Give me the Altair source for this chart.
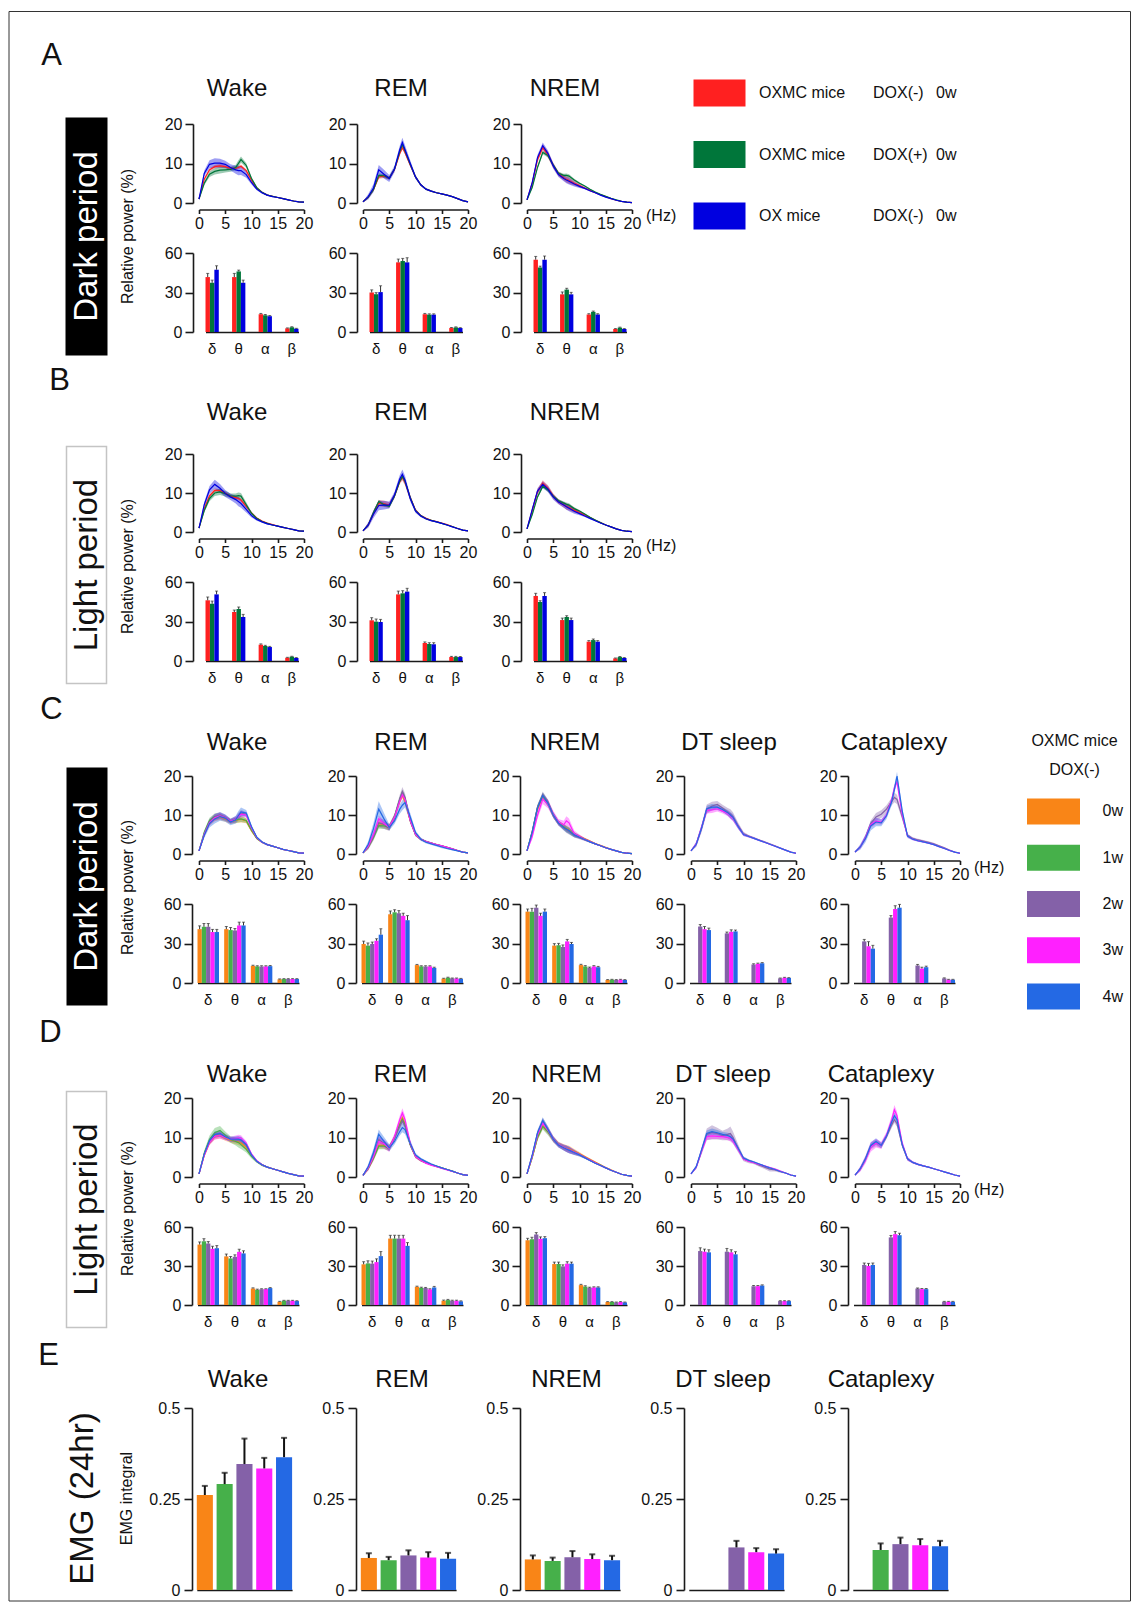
import altair as alt
import pandas as pd

FONT = "Liberation Sans"
INK = "#1a1a1a"
TEXT = "#111111"
ERR = "#333333"

# ---------------- categories / series ----------------
FREQ = [0, 1, 2, 3, 4, 5, 6, 7, 7.5, 8, 9, 10, 11, 12, 13, 14, 15, 16, 17, 18, 19, 20]
BANDS = ["δ", "θ", "α", "β"]
STATES = ["Wake", "REM", "NREM", "DT sleep", "Cataplexy"]

AB_SERIES = ["OXMC DOX(-) 0w", "OXMC DOX(+) 0w", "OX DOX(-) 0w"]
AB_COLORS = ["#FF2020", "#00763A", "#0000E0"]
AB_LEG_NAME = ["OXMC mice", "OXMC mice", "OX mice"]
AB_LEG_DOX = ["DOX(-)", "DOX(+)", "DOX(-)"]
AB_LEG_WEEK = ["0w", "0w", "0w"]

W_SERIES = ["0w", "1w", "2w", "3w", "4w"]
W_COLORS = ["#F98517", "#46B04A", "#8461A8", "#FF20FF", "#2469E4"]
W_SUB = ["2w", "3w", "4w"]

# ---------------- SEM profiles ----------------
SEM_S = [0.05, 0.3, 0.4, 0.45, 0.45, 0.4, 0.4, 0.4, 0.45, 0.45, 0.35, 0.25, 0.15, 0.1, 0.1, 0.08, 0.08, 0.06, 0.05, 0.05, 0.04, 0.03]
SEM_M = [0.1, 0.5, 0.7, 0.8, 0.8, 0.7, 0.6, 0.7, 0.8, 0.8, 0.6, 0.4, 0.25, 0.2, 0.15, 0.12, 0.1, 0.1, 0.08, 0.06, 0.05, 0.04]
SEM_L = [0.1, 0.7, 1.0, 1.2, 1.1, 0.9, 0.8, 1.0, 1.2, 1.1, 0.8, 0.5, 0.3, 0.25, 0.2, 0.15, 0.12, 0.1, 0.08, 0.06, 0.05, 0.04]
SEM_C_REM_BLUE = [0.1, 0.8, 1.5, 2.0, 1.5, 0.8, 0.8, 1.2, 1.3, 1.3, 1.0, 0.5, 0.4, 0.3, 0.3, 0.3, 0.3, 0.2, 0.2, 0.1, 0.1, 0.05]
SEM_C_CAT_PURPLE = [0.1, 0.3, 0.5, 0.8, 1.0, 1.0, 1.0, 1.0, 1.2, 1.2, 0.8, 0.4, 0.3, 0.3, 0.3, 0.3, 0.3, 0.2, 0.2, 0.1, 0.1, 0.05]
SEM_D_DT_PURPLE = [0.1, 0.3, 0.8, 1.5, 1.8, 1.5, 1.2, 1.5, 1.8, 1.5, 1.0, 0.6, 0.5, 0.4, 0.4, 0.5, 0.6, 0.4, 0.3, 0.2, 0.1, 0.05]

# ---------------- spectra: A (dark, OX/OXMC) ----------------
A_WAKE = [
    [1.0, 6.0, 8.4, 9.2, 9.4, 9.2, 8.8, 8.8, 9.0, 9.3, 8.2, 5.8, 3.8, 2.7, 2.0, 1.7, 1.4, 1.1, 0.8, 0.5, 0.3, 0.2],
    [1.0, 5.0, 7.3, 8.0, 8.3, 8.4, 8.5, 9.0, 10.0, 11.0, 9.5, 6.2, 3.9, 2.7, 2.0, 1.7, 1.4, 1.1, 0.8, 0.5, 0.3, 0.2],
    [1.0, 7.5, 9.8, 10.1, 10.1, 9.8, 9.0, 8.4, 8.2, 8.2, 7.2, 5.2, 3.5, 2.6, 2.0, 1.6, 1.4, 1.1, 0.8, 0.5, 0.3, 0.2]]
A_REM = [
    [0.3, 1.5, 3.4, 6.6, 6.8, 6.3, 8.5, 12.5, 14.0, 12.8, 9.6, 6.6, 4.6, 3.5, 3.0, 2.6, 2.3, 2.0, 1.6, 1.1, 0.6, 0.3],
    [0.3, 1.5, 3.4, 7.0, 6.9, 6.3, 8.6, 13.0, 14.8, 13.2, 9.8, 6.6, 4.6, 3.5, 3.0, 2.6, 2.3, 2.0, 1.6, 1.1, 0.6, 0.3],
    [0.3, 1.6, 3.8, 8.4, 7.3, 6.2, 8.6, 13.5, 15.3, 13.5, 10.0, 6.6, 4.6, 3.5, 3.0, 2.6, 2.3, 2.0, 1.6, 1.1, 0.6, 0.3]]
A_NREM = [
    [0.8, 5.0, 11.0, 14.0, 12.2, 9.5, 7.4, 6.4, 6.0, 5.7, 5.0, 4.4, 3.8, 3.2, 2.6, 2.1, 1.6, 1.1, 0.7, 0.4, 0.2, 0.1],
    [0.8, 4.0, 9.0, 12.8, 12.0, 9.6, 7.5, 7.0, 7.0, 6.8, 5.8, 5.0, 4.3, 3.5, 2.8, 2.2, 1.7, 1.2, 0.8, 0.4, 0.2, 0.1],
    [0.8, 5.2, 11.5, 14.5, 12.5, 9.4, 7.2, 6.2, 5.8, 5.5, 4.8, 4.2, 3.7, 3.1, 2.6, 2.0, 1.5, 1.1, 0.7, 0.4, 0.2, 0.1]]
A_SEMS = [[SEM_S, SEM_M, SEM_L], [SEM_S, SEM_S, SEM_L], [SEM_M, SEM_S, SEM_M]]

# ---------------- spectra: B (light, OX/OXMC) ----------------
B_WAKE = [
    [1.0, 6.0, 9.3, 10.7, 10.6, 9.9, 9.2, 8.8, 8.6, 8.2, 6.6, 4.9, 3.6, 2.8, 2.3, 1.9, 1.5, 1.2, 0.9, 0.6, 0.3, 0.2],
    [1.0, 5.5, 8.6, 10.0, 10.3, 9.8, 9.3, 9.2, 9.3, 9.2, 7.0, 4.8, 3.5, 2.7, 2.2, 1.8, 1.5, 1.2, 0.9, 0.6, 0.3, 0.2],
    [1.0, 7.0, 10.8, 12.2, 11.2, 9.9, 9.0, 8.3, 7.8, 7.3, 5.8, 4.2, 3.2, 2.6, 2.1, 1.8, 1.5, 1.2, 0.9, 0.6, 0.3, 0.2]]
B_REM = [
    [0.3, 1.8, 4.8, 7.4, 7.2, 6.9, 9.3, 13.0, 14.0, 12.8, 8.8, 5.6, 4.2, 3.5, 3.0, 2.7, 2.3, 1.9, 1.4, 0.9, 0.5, 0.3],
    [0.3, 1.8, 5.0, 7.8, 7.0, 6.6, 9.2, 13.0, 14.2, 13.0, 8.8, 5.5, 4.2, 3.4, 3.0, 2.6, 2.2, 1.8, 1.4, 0.9, 0.5, 0.3],
    [0.3, 1.8, 4.6, 6.8, 6.9, 6.9, 9.5, 13.6, 14.8, 13.3, 8.6, 5.4, 4.1, 3.4, 2.9, 2.6, 2.2, 1.8, 1.3, 0.9, 0.5, 0.3]]
B_NREM = [
    [0.8, 5.5, 10.3, 12.5, 11.2, 9.2, 7.8, 7.0, 6.6, 6.3, 5.6, 5.0, 4.4, 3.7, 3.0, 2.4, 1.8, 1.3, 0.8, 0.4, 0.2, 0.1],
    [0.8, 4.5, 9.0, 11.7, 10.8, 9.2, 8.0, 7.4, 7.1, 6.9, 6.0, 5.4, 4.6, 3.8, 3.1, 2.4, 1.8, 1.3, 0.8, 0.4, 0.2, 0.1],
    [0.8, 5.8, 10.5, 12.2, 11.0, 9.0, 7.7, 6.9, 6.5, 6.1, 5.3, 4.7, 4.1, 3.5, 2.9, 2.3, 1.8, 1.3, 0.8, 0.4, 0.2, 0.1]]
B_SEMS = [[SEM_S, SEM_M, SEM_L], [SEM_M, SEM_S, SEM_L], [SEM_M, SEM_S, SEM_M]]

# ---------------- spectra: C (dark, OXMC DOX(-) weeks) ----------------
C_WAKE = [
    [0.8, 5.0, 8.0, 9.2, 9.5, 9.0, 8.3, 8.6, 8.8, 8.9, 8.5, 6.0, 4.0, 3.0, 2.4, 2.0, 1.6, 1.2, 0.9, 0.6, 0.3, 0.2],
    [0.8, 5.6, 8.6, 9.6, 9.8, 9.2, 8.4, 8.7, 8.9, 9.0, 8.6, 6.1, 4.0, 3.0, 2.4, 2.0, 1.6, 1.2, 0.9, 0.6, 0.3, 0.2],
    [0.8, 5.2, 8.3, 9.5, 10.0, 9.4, 8.5, 9.0, 9.8, 10.5, 10.2, 6.8, 4.2, 3.1, 2.4, 2.0, 1.6, 1.2, 0.9, 0.6, 0.3, 0.2],
    [0.8, 5.0, 8.0, 9.3, 9.8, 9.3, 8.4, 8.9, 9.6, 10.2, 10.0, 6.7, 4.2, 3.0, 2.4, 2.0, 1.6, 1.2, 0.9, 0.6, 0.3, 0.2],
    [0.8, 4.8, 7.8, 9.0, 9.6, 9.2, 8.2, 8.8, 9.8, 10.8, 10.5, 7.0, 4.3, 3.1, 2.4, 2.0, 1.6, 1.2, 0.9, 0.6, 0.3, 0.2]]
C_REM = [
    [0.3, 1.8, 4.5, 7.8, 7.5, 6.8, 9.5, 13.5, 15.0, 13.5, 8.5, 5.0, 3.8, 3.2, 2.8, 2.4, 2.1, 1.7, 1.3, 0.9, 0.5, 0.3],
    [0.3, 1.8, 4.3, 7.3, 7.2, 6.8, 9.6, 14.0, 15.8, 14.3, 8.6, 5.0, 3.8, 3.2, 2.8, 2.4, 2.1, 1.7, 1.3, 0.9, 0.5, 0.3],
    [0.3, 1.8, 4.5, 8.0, 7.6, 6.8, 9.6, 14.2, 16.0, 14.5, 8.6, 5.0, 3.8, 3.2, 2.8, 2.4, 2.1, 1.7, 1.3, 0.9, 0.5, 0.3],
    [0.3, 2.0, 5.0, 9.0, 7.8, 6.9, 9.4, 13.5, 15.2, 14.0, 8.6, 5.0, 3.8, 3.2, 2.8, 2.4, 2.1, 1.7, 1.3, 0.9, 0.5, 0.3],
    [0.3, 2.5, 6.5, 11.5, 9.0, 6.8, 8.5, 11.5, 12.5, 13.2, 9.5, 5.5, 3.8, 3.0, 2.6, 2.2, 1.8, 1.4, 1.1, 0.8, 0.5, 0.3]]
C_NREM = [
    [0.8, 5.5, 11.5, 14.8, 13.0, 10.0, 8.0, 7.0, 6.6, 6.2, 5.0, 4.5, 3.9, 3.3, 2.7, 2.2, 1.7, 1.2, 0.8, 0.4, 0.2, 0.1],
    [0.8, 5.8, 12.0, 15.0, 13.0, 10.0, 8.0, 6.9, 6.4, 6.0, 4.9, 4.4, 3.8, 3.2, 2.6, 2.1, 1.6, 1.2, 0.8, 0.4, 0.2, 0.1],
    [0.8, 5.8, 12.0, 15.2, 13.2, 10.0, 7.9, 6.7, 6.2, 5.8, 4.8, 4.2, 3.6, 3.1, 2.6, 2.1, 1.6, 1.2, 0.8, 0.4, 0.2, 0.1],
    [0.8, 4.5, 10.0, 14.0, 12.8, 10.2, 8.2, 7.5, 8.5, 8.0, 5.2, 4.5, 3.8, 3.2, 2.6, 2.1, 1.6, 1.2, 0.8, 0.4, 0.2, 0.1],
    [0.8, 5.6, 11.8, 15.0, 13.0, 10.0, 7.9, 6.8, 6.4, 6.0, 4.9, 4.3, 3.7, 3.1, 2.6, 2.1, 1.6, 1.2, 0.8, 0.4, 0.2, 0.1]]
C_DT = [
    [0.8, 2.5, 6.5, 11.5, 12.3, 12.7, 11.8, 10.8, 10.3, 9.6, 7.2, 5.2, 4.6, 4.1, 3.6, 3.1, 2.6, 2.1, 1.5, 1.0, 0.5, 0.2],
    [0.8, 2.6, 6.8, 11.2, 11.3, 11.6, 11.0, 10.4, 9.8, 9.2, 7.0, 5.0, 4.5, 4.0, 3.5, 3.0, 2.5, 2.0, 1.5, 1.0, 0.5, 0.2],
    [0.8, 2.5, 6.6, 11.6, 12.0, 12.0, 11.4, 10.6, 10.0, 9.4, 7.0, 5.0, 4.5, 4.0, 3.5, 3.0, 2.5, 2.0, 1.5, 1.0, 0.5, 0.2]]
C_CAT = [
    [0.5, 1.8, 4.3, 7.8, 9.5, 10.2, 11.5, 13.5, 14.5, 14.0, 9.5, 4.8, 4.0, 3.6, 3.3, 3.0, 2.6, 2.1, 1.6, 1.0, 0.5, 0.2],
    [0.5, 1.8, 4.2, 7.5, 8.4, 8.2, 10.0, 14.0, 17.0, 18.5, 10.0, 4.6, 3.8, 3.4, 3.1, 2.8, 2.4, 1.9, 1.4, 0.9, 0.5, 0.2],
    [0.5, 1.8, 4.0, 7.2, 8.2, 8.0, 9.8, 13.5, 16.5, 20.0, 11.0, 4.6, 3.8, 3.4, 3.1, 2.8, 2.4, 1.9, 1.4, 0.9, 0.5, 0.2]]
C_SEMS = [[SEM_M, SEM_M, SEM_M, SEM_M, SEM_L],
          [SEM_M, SEM_M, SEM_L, SEM_M, SEM_C_REM_BLUE],
          [SEM_M, SEM_M, SEM_M, SEM_L, SEM_M],
          [SEM_L, SEM_M, SEM_M],
          [SEM_C_CAT_PURPLE, SEM_M, SEM_L]]

# ---------------- spectra: D (light, OXMC DOX(-) weeks) ----------------
D_WAKE = [
    [0.8, 5.5, 8.8, 10.3, 10.6, 9.9, 9.3, 9.0, 8.9, 8.6, 7.5, 5.5, 4.0, 3.1, 2.5, 2.1, 1.7, 1.3, 0.9, 0.6, 0.3, 0.2],
    [0.8, 6.0, 9.5, 11.2, 11.8, 10.6, 9.5, 9.0, 8.7, 8.2, 7.0, 5.2, 3.9, 3.0, 2.5, 2.1, 1.7, 1.3, 0.9, 0.6, 0.3, 0.2],
    [0.8, 5.8, 9.0, 10.6, 11.0, 10.2, 9.5, 9.4, 9.4, 9.3, 8.0, 5.6, 4.0, 3.1, 2.5, 2.1, 1.7, 1.3, 0.9, 0.6, 0.3, 0.2],
    [0.8, 5.5, 8.8, 10.3, 10.5, 10.0, 9.6, 9.8, 9.9, 9.8, 8.5, 5.8, 4.1, 3.1, 2.5, 2.1, 1.7, 1.3, 0.9, 0.6, 0.3, 0.2],
    [0.8, 5.8, 9.2, 10.8, 11.0, 10.2, 9.6, 9.6, 9.6, 9.4, 8.2, 5.6, 4.0, 3.1, 2.5, 2.1, 1.7, 1.3, 0.9, 0.6, 0.3, 0.2]]
D_REM = [
    [0.4, 2.2, 4.8, 8.0, 8.0, 7.3, 10.0, 13.5, 15.0, 13.5, 8.2, 5.2, 4.2, 3.6, 3.1, 2.7, 2.3, 1.9, 1.5, 1.0, 0.6, 0.4],
    [0.4, 2.2, 4.8, 7.8, 7.8, 7.3, 10.0, 13.2, 14.6, 13.2, 8.2, 5.2, 4.2, 3.6, 3.1, 2.7, 2.3, 1.9, 1.5, 1.0, 0.6, 0.4],
    [0.4, 2.4, 5.5, 9.5, 8.5, 7.4, 9.8, 12.8, 14.2, 13.0, 8.3, 5.3, 4.3, 3.6, 3.1, 2.7, 2.3, 1.9, 1.5, 1.0, 0.6, 0.4],
    [0.4, 2.3, 5.2, 9.0, 8.4, 7.2, 10.2, 14.5, 16.2, 14.5, 8.5, 5.2, 4.2, 3.5, 3.0, 2.6, 2.2, 1.8, 1.4, 1.0, 0.6, 0.4],
    [0.4, 2.6, 6.2, 10.8, 9.0, 7.4, 9.0, 11.5, 12.5, 12.0, 8.5, 5.6, 4.6, 3.9, 3.3, 2.8, 2.3, 1.9, 1.5, 1.0, 0.6, 0.4]]
D_NREM = [
    [0.8, 5.0, 10.0, 13.0, 11.6, 9.6, 8.3, 7.6, 7.3, 7.1, 6.5, 5.9, 5.2, 4.5, 3.8, 3.1, 2.4, 1.8, 1.2, 0.7, 0.4, 0.2],
    [0.8, 5.0, 10.0, 12.8, 11.4, 9.5, 8.2, 7.5, 7.2, 6.9, 6.3, 5.7, 5.0, 4.3, 3.6, 3.0, 2.3, 1.7, 1.2, 0.7, 0.4, 0.2],
    [0.8, 5.5, 11.0, 14.2, 12.0, 9.6, 8.1, 7.4, 7.1, 6.8, 6.2, 5.6, 4.9, 4.2, 3.5, 2.9, 2.3, 1.7, 1.2, 0.7, 0.4, 0.2],
    [0.8, 5.3, 10.6, 13.6, 11.8, 9.6, 8.2, 7.5, 7.2, 6.9, 6.3, 5.7, 5.0, 4.3, 3.6, 2.9, 2.3, 1.7, 1.2, 0.7, 0.4, 0.2],
    [0.8, 5.6, 11.2, 14.3, 12.0, 9.6, 8.1, 7.4, 7.1, 6.8, 6.2, 5.6, 4.9, 4.2, 3.5, 2.9, 2.3, 1.7, 1.2, 0.7, 0.4, 0.2]]
D_DT = [
    [0.8, 2.5, 6.5, 10.8, 11.3, 11.0, 10.5, 10.8, 11.0, 10.0, 7.2, 4.6, 4.0, 3.6, 3.0, 2.5, 2.0, 1.8, 1.4, 1.0, 0.5, 0.2],
    [0.8, 2.5, 6.5, 10.2, 10.4, 10.3, 10.2, 10.0, 9.8, 9.2, 7.0, 4.6, 4.0, 3.6, 3.2, 2.8, 2.4, 2.0, 1.5, 1.0, 0.5, 0.2],
    [0.8, 2.6, 6.8, 11.0, 11.5, 11.2, 10.8, 10.5, 10.2, 9.6, 7.2, 4.8, 4.2, 3.8, 3.3, 2.8, 2.3, 1.9, 1.4, 1.0, 0.5, 0.2]]
D_CAT = [
    [0.5, 2.0, 4.5, 7.8, 8.6, 8.0, 10.2, 13.2, 14.5, 13.5, 8.0, 4.6, 3.7, 3.2, 2.8, 2.5, 2.1, 1.7, 1.3, 0.9, 0.5, 0.2],
    [0.5, 2.0, 4.4, 7.6, 8.6, 8.0, 10.6, 14.5, 17.0, 15.5, 8.5, 4.6, 3.7, 3.2, 2.8, 2.5, 2.1, 1.7, 1.3, 0.9, 0.5, 0.2],
    [0.5, 2.1, 4.6, 8.0, 9.0, 8.0, 10.4, 14.0, 15.5, 14.5, 8.2, 4.6, 3.7, 3.2, 2.8, 2.5, 2.1, 1.7, 1.3, 0.9, 0.5, 0.2]]
D_SEMS = [[SEM_M, SEM_L, SEM_M, SEM_M, SEM_M],
          [SEM_M, SEM_M, SEM_M, SEM_L, SEM_L],
          [SEM_M, SEM_M, SEM_M, SEM_M, SEM_M],
          [SEM_D_DT_PURPLE, SEM_M, SEM_M],
          [SEM_M, SEM_L, SEM_M]]

# ---------------- band power bars (series x [δ, θ, α, β]) ----------------
A_WAKE_BAR = [[41.7, 41.7, 13.5, 2.8], [37.4, 46.0, 12.7, 3.6], [47.3, 37.4, 12.0, 2.5]]
A_WAKE_BAR_SEM = [[2.8, 2.8, 0.6, 0.3], [2.0, 1.0, 0.6, 0.4], [3.0, 2.0, 0.5, 0.3]]
A_REM_BAR = [[30.0, 52.9, 13.5, 3.0], [28.7, 53.9, 13.2, 3.5], [30.3, 52.9, 13.2, 3.0]]
A_REM_BAR_SEM = [[2.0, 2.5, 0.6, 0.4], [1.2, 2.0, 0.6, 0.4], [4.8, 3.5, 0.6, 0.3]]
A_NREM_BAR = [[54.9, 28.6, 13.3, 2.3], [49.0, 32.2, 15.3, 3.3], [54.9, 28.6, 13.3, 2.3]]
A_NREM_BAR_SEM = [[2.5, 1.8, 0.6, 0.3], [1.0, 1.0, 0.6, 0.4], [2.8, 1.5, 0.6, 0.3]]

B_WAKE_BAR = [[46.1, 37.2, 12.4, 2.5], [43.5, 39.5, 11.4, 3.3], [50.6, 33.4, 10.6, 2.3]]
B_WAKE_BAR_SEM = [[2.5, 1.5, 0.6, 0.3], [2.0, 1.5, 0.5, 0.3], [2.5, 2.0, 0.5, 0.3]]
B_REM_BAR = [[30.9, 50.6, 13.7, 3.0], [29.9, 51.4, 12.9, 3.0], [29.6, 52.7, 12.7, 3.0]]
B_REM_BAR_SEM = [[2.0, 2.5, 0.8, 0.5], [2.0, 2.0, 1.0, 0.5], [2.0, 2.5, 1.2, 0.4]]
B_NREM_BAR = [[49.4, 31.1, 14.7, 2.0], [44.8, 33.4, 15.9, 3.0], [49.4, 31.1, 14.7, 2.3]]
B_NREM_BAR_SEM = [[2.0, 1.5, 0.8, 0.3], [1.0, 1.0, 0.8, 0.4], [2.5, 1.5, 0.8, 0.3]]

C_WAKE_BAR = [[40.9, 40.9, 13.0, 2.8], [42.7, 40.2, 12.6, 3.0], [42.7, 39.9, 12.6, 3.0], [38.7, 43.7, 12.6, 3.0], [38.7, 43.7, 12.8, 3.0]]
C_WAKE_BAR_SEM = [[2.5, 2.0, 0.5, 0.3], [2.5, 2.0, 0.5, 0.3], [2.5, 1.5, 0.5, 0.3], [2.0, 2.5, 0.5, 0.3], [2.0, 2.5, 0.5, 0.3]]
C_REM_BAR = [[29.6, 52.2, 13.6, 3.3], [28.4, 53.7, 12.6, 4.0], [29.6, 53.0, 12.6, 3.5], [32.1, 51.0, 12.6, 3.5], [36.7, 47.7, 11.5, 3.2]]
C_REM_BAR_SEM = [[2.2, 2.5, 0.5, 0.3], [2.0, 2.0, 0.5, 0.4], [1.5, 2.0, 0.5, 0.3], [1.5, 2.0, 0.5, 0.3], [4.5, 3.5, 0.5, 0.3]]
C_NREM_BAR = [[54.2, 28.4, 13.6, 2.3], [54.2, 28.6, 12.6, 2.5], [57.2, 27.4, 11.5, 2.3], [51.0, 31.6, 12.6, 2.5], [54.2, 29.6, 12.0, 2.3]]
C_NREM_BAR_SEM = [[2.0, 1.5, 0.6, 0.3], [2.5, 1.5, 0.6, 0.3], [2.0, 1.5, 0.6, 0.3], [2.0, 1.5, 0.6, 0.3], [2.0, 1.2, 0.6, 0.3]]
C_DT_BAR = [[42.9, 37.7, 14.1, 3.5], [40.9, 38.9, 14.6, 4.0], [40.2, 39.2, 15.0, 3.8]]
C_DT_BAR_SEM = [[1.5, 1.0, 0.5, 0.3], [2.0, 1.5, 0.5, 0.3], [1.5, 1.0, 0.5, 0.3]]
C_CAT_BAR = [[31.6, 49.7, 13.3, 3.5], [27.9, 56.2, 11.0, 2.5], [26.1, 57.2, 12.0, 2.5]]
C_CAT_BAR_SEM = [[1.5, 1.5, 0.8, 0.4], [3.5, 2.5, 1.0, 0.3], [2.5, 2.5, 0.8, 0.3]]

D_WAKE_BAR = [[46.5, 37.4, 12.7, 2.5], [49.0, 35.8, 11.7, 3.3], [47.3, 37.1, 12.2, 3.3], [43.2, 40.9, 12.2, 3.3], [43.7, 39.7, 13.0, 3.0]]
D_WAKE_BAR_SEM = [[2.0, 1.8, 0.5, 0.3], [2.0, 1.5, 0.5, 0.3], [1.5, 1.5, 0.3, 0.3], [2.0, 2.0, 0.3, 0.3], [2.0, 2.0, 0.4, 0.3]]
D_REM_BAR = [[31.3, 51.1, 14.0, 3.3], [32.0, 51.1, 13.2, 3.8], [31.8, 51.1, 13.0, 3.3], [33.0, 51.1, 12.0, 3.3], [37.6, 45.5, 13.5, 2.8]]
D_REM_BAR_SEM = [[2.0, 2.5, 0.5, 0.5], [2.0, 2.5, 0.5, 0.5], [2.0, 2.5, 0.5, 0.4], [2.5, 2.5, 0.5, 0.4], [3.5, 2.5, 0.8, 0.4]]
D_NREM_BAR = [[49.8, 31.5, 15.3, 2.3], [50.6, 31.5, 14.2, 2.3], [54.2, 29.7, 13.2, 2.0], [50.9, 31.8, 13.5, 2.3], [51.4, 31.8, 13.5, 2.0]]
D_NREM_BAR_SEM = [[1.5, 1.5, 0.6, 0.3], [1.5, 1.5, 0.6, 0.3], [1.5, 1.2, 0.5, 0.3], [1.5, 1.5, 0.5, 0.3], [1.2, 1.2, 0.5, 0.3]]
D_DT_BAR = [[41.5, 41.0, 14.5, 3.0], [41.0, 40.5, 14.5, 3.0], [40.5, 39.0, 15.0, 3.0]]
D_DT_BAR_SEM = [[2.5, 2.5, 0.5, 0.3], [2.0, 2.0, 0.5, 0.3], [2.0, 2.0, 0.5, 0.3]]
D_CAT_BAR = [[30.8, 52.0, 12.6, 2.5], [30.0, 54.5, 12.2, 2.5], [30.8, 53.7, 12.2, 2.5]]
D_CAT_BAR_SEM = [[1.5, 1.5, 0.5, 0.3], [2.0, 2.0, 0.5, 0.3], [1.5, 1.5, 0.5, 0.3]]

# ---------------- EMG integral (24 hr), series 0w..4w ----------------
EMG_WAKE = [0.261, 0.291, 0.346, 0.334, 0.365]
EMG_WAKE_SEM = [0.025, 0.031, 0.070, 0.029, 0.053]
EMG_REM = [0.088, 0.082, 0.095, 0.089, 0.086]
EMG_REM_SEM = [0.013, 0.009, 0.014, 0.015, 0.016]
EMG_NREM = [0.084, 0.080, 0.090, 0.085, 0.082]
EMG_NREM_SEM = [0.011, 0.009, 0.017, 0.013, 0.012]
EMG_DT = [None, None, 0.117, 0.104, 0.100]
EMG_DT_SEM = [None, None, 0.018, 0.011, 0.012]
EMG_CAT = [None, 0.110, 0.126, 0.123, 0.120]
EMG_CAT_SEM = [None, 0.018, 0.018, 0.017, 0.015]

ONE = pd.DataFrame({"v": [0]})
TITLE_SIZE = 24


# ---------------- helpers ----------------
def txt(text, x, y, size, align="center", angle=0, color=TEXT):
    return alt.Chart(ONE).mark_text(
        text=text, font=FONT, fontSize=size, align=align, baseline="middle",
        angle=angle, color=color).encode(x=alt.value(x), y=alt.value(y))


def box(x1, x2, y1, y2, fill, stroke, sw, opacity=1):
    return alt.Chart(ONE).mark_rect(fill=fill, stroke=stroke, strokeWidth=sw, opacity=opacity).encode(
        x=alt.value(x1), x2=alt.value(x2), y=alt.value(y1), y2=alt.value(y2))


def frame(x1, x2, y1, y2):
    return alt.Chart(ONE).mark_rect(filled=False, stroke="#333333", strokeWidth=1).encode(
        x=alt.value(x1), x2=alt.value(x2), y=alt.value(y1), y2=alt.value(y2))


def blank(w=1, h=1):
    return alt.Chart(ONE).mark_point(opacity=0, size=0).properties(width=w, height=h)


def line_panel(means, sems, series, cdom, crange, title, tx, ty, yoff, h, hz=False):
    rows = []
    for s, m, e in zip(series, means, sems):
        for f, v, d in zip(FREQ, m, e):
            rows.append({"series": s, "freq": f, "mean": v, "lo": v - d, "hi": v + d})
    df = pd.DataFrame(rows)
    xs = alt.Scale(domain=[0, 20], nice=False, zero=False)
    ys = alt.Scale(domain=[0, 20], nice=False)
    xax = alt.Axis(values=[0, 5, 10, 15, 20], offset=6.5, tickSize=4, labelPadding=2, labelOverlap=False,
                   labelFlush=False, title=None, grid=False)
    yax = alt.Axis(values=[0, 10, 20], offset=yoff, tickSize=8, labelPadding=3, labelOverlap=False,
                   labelFlush=False, title=None, grid=False)
    col = alt.Color("series:N", scale=alt.Scale(domain=cdom, range=crange), legend=None)
    base = alt.Chart(df)
    band = base.mark_area(opacity=0.38).encode(
        x=alt.X("freq:Q", scale=xs, axis=xax),
        y=alt.Y("lo:Q", scale=ys, axis=yax), y2="hi:Q", color=col)
    line = base.mark_line(strokeWidth=1.2).encode(
        x=alt.X("freq:Q", scale=xs, axis=xax),
        y=alt.Y("mean:Q", scale=ys, axis=yax), color=col)
    layers = [band, line, txt(title, tx, ty, TITLE_SIZE)]
    if hz:
        layers.append(txt("(Hz)", 119, 91.5, 16, align="left"))
    return alt.layer(*layers).properties(width=105, height=h)


def bar_panel(means, sems, series, cdom, crange, rng, pi, yoff, h, cap=3):
    rows = []
    for s, m, e in zip(series, means, sems):
        for b, v, d in zip(BANDS, m, e):
            rows.append({"series": s, "band": b, "mean": v, "hi": v + d})
    df = pd.DataFrame(rows)
    x = alt.X("band:N", scale=alt.Scale(domain=BANDS, range=rng, paddingInner=pi, paddingOuter=0),
              axis=alt.Axis(ticks=False, tickSize=0, labelPadding=9, labelAngle=0,
                            labelFontSize=15, title=None, grid=False))
    xo = alt.XOffset("series:N", scale=alt.Scale(domain=cdom, paddingInner=0, paddingOuter=0))
    ys = alt.Scale(domain=[0, 60], nice=False)
    yax = alt.Axis(values=[0, 30, 60], offset=yoff, tickSize=8, labelPadding=3, labelOverlap=False,
                   labelFlush=False, title=None, grid=False)
    col = alt.Color("series:N", scale=alt.Scale(domain=cdom, range=crange), legend=None)
    base = alt.Chart(df)
    bars = base.mark_bar().encode(x=x, xOffset=xo, y=alt.Y("mean:Q", scale=ys, axis=yax), color=col)
    err = base.mark_rule(color=ERR, strokeWidth=1).encode(
        x=x, xOffset=xo, y=alt.Y("mean:Q", scale=ys, axis=yax), y2="hi:Q")
    caps = base.mark_tick(color=ERR, thickness=1, size=cap, orient="horizontal").encode(
        x=x, xOffset=xo, y=alt.Y("hi:Q", scale=ys, axis=yax))
    return alt.layer(bars, err, caps).properties(width=105, height=h)


def emg_panel(means, sems, title, tx, ty):
    rows = [{"series": s, "mean": m, "hi": m + e}
            for s, m, e in zip(W_SERIES, means, sems) if m is not None]
    df = pd.DataFrame(rows)
    x = alt.X("series:N", scale=alt.Scale(domain=W_SERIES, range=[-2.2, 93.1], paddingInner=0.188, paddingOuter=0),
              axis=alt.Axis(labels=False, ticks=False, tickSize=0, title=None, grid=False))
    ys = alt.Scale(domain=[0, 0.5], nice=False)
    yax = alt.Axis(values=[0, 0.25, 0.5], format=".2~f", offset=7, tickSize=8, labelPadding=4,
                   labelOverlap=False, labelFlush=False, title=None, grid=False)
    col = alt.Color("series:N", scale=alt.Scale(domain=W_SERIES, range=W_COLORS), legend=None)
    base = alt.Chart(df)
    bars = base.mark_bar().encode(x=x, y=alt.Y("mean:Q", scale=ys, axis=yax), color=col)
    err = base.mark_rule(color="#111111", strokeWidth=2).encode(
        x=x, y=alt.Y("mean:Q", scale=ys, axis=yax), y2="hi:Q")
    caps = base.mark_tick(color="#111111", thickness=2, size=6, orient="horizontal").encode(
        x=x, y=alt.Y("hi:Q", scale=ys, axis=yax))
    return alt.layer(bars, err, caps, txt(title, tx, ty, TITLE_SIZE)).properties(width=105, height=182)


def legend_ab():
    df = pd.DataFrame({"series": AB_SERIES, "name": AB_LEG_NAME, "dox": AB_LEG_DOX, "week": AB_LEG_WEEK})
    y = alt.Y("series:N", scale=alt.Scale(domain=AB_SERIES, range=[-44.5, 105.5],
                                          paddingInner=0.561, paddingOuter=0), axis=None)
    col = alt.Color("series:N", scale=alt.Scale(domain=AB_SERIES, range=AB_COLORS), legend=None)
    base = alt.Chart(df)
    sw = base.mark_rect().encode(y=y, x=alt.value(2.5), x2=alt.value(54.5), color=col)
    tk = dict(font=FONT, fontSize=16, align="left", baseline="middle", color=TEXT)
    t1 = base.mark_text(**tk).encode(y=y, x=alt.value(68), text="name:N")
    t2 = base.mark_text(**tk).encode(y=y, x=alt.value(182), text="dox:N")
    t3 = base.mark_text(**tk).encode(y=y, x=alt.value(245), text="week:N")
    return alt.layer(sw, t1, t2, t3).properties(width=1, height=1)


def legend_w():
    df = pd.DataFrame({"series": W_SERIES})
    y = alt.Y("series:N", scale=alt.Scale(domain=W_SERIES, range=[22.5, 233.5],
                                          paddingInner=0.438, paddingOuter=0), axis=None)
    col = alt.Color("series:N", scale=alt.Scale(domain=W_SERIES, range=W_COLORS), legend=None)
    base = alt.Chart(df)
    sw = base.mark_rect().encode(y=y, x=alt.value(8), x2=alt.value(61), color=col)
    lab = base.mark_text(font=FONT, fontSize=16, align="right", baseline="middle", color=TEXT).encode(
        y=y, x=alt.value(104), text="series:N")
    return alt.layer(sw, lab, txt("OXMC mice", 55.5, -35.5, 16), txt("DOX(-)", 55.5, -6.5, 16)).properties(
        width=55, height=78)


def side(layers, h):
    return alt.layer(*layers).properties(width=131, height=h)


# ---------------- left label cells ----------------
cellA = side([box(0, 1, -115.5, -114.5, "#ffffff", "#ffffff", 0, opacity=0),
              frame(0, 1121.5, -112.5, 1477),
              box(56.5, 98.5, -6.5, 231.5, "#000000", "#000000", 0),
              txt("Dark period", 77.5, 112.5, 33, angle=270, color="#ffffff"),
              txt("Relative power (%)", 118.5, 112.5, 16, angle=270),
              txt("A", 42.5, -68.5, 31)], 79)
cellB = side([box(57.5, 97.5, -7.5, 229.5, "#ffffff", "#c4c4c4", 1.5),
              txt("Light period", 77.5, 111, 33, angle=270),
              txt("Relative power (%)", 119, 112.5, 16, angle=270),
              txt("B", 50.5, -73.5, 31)], 78)
cellC = side([box(57.5, 98.5, -8.5, 229.5, "#000000", "#000000", 0),
              txt("Dark period", 78, 110.5, 33, angle=270, color="#ffffff"),
              txt("Relative power (%)", 118.5, 111.5, 16, angle=270),
              txt("C", 42.5, -66.5, 31)], 78)
cellD = side([box(57.5, 97.5, -6.5, 229.5, "#ffffff", "#c4c4c4", 1.5),
              txt("Light period", 77.5, 111.5, 33, angle=270),
              txt("Relative power (%)", 118.5, 110.5, 16, angle=270),
              txt("D", 41.5, -65.5, 31)], 79)
cellE = side([txt("EMG (24hr)", 73.5, 90.5, 33, angle=270),
              txt("EMG integral", 117.5, 90.5, 16, angle=270),
              txt("E", 39.5, -52.5, 31)], 182)

AB_RNG, AB_PI = [6.5, 99.5], 0.5
W_RNG, W_PI = [-1.5, 100.0], 0.194

grid = []
# Row A
grid.append([cellA] + [
    line_panel(m, s, AB_SERIES, AB_SERIES, AB_COLORS, t, 38, -35.5, 6, 79, hz=(i == 2))
    for i, (m, s, t) in enumerate(zip([A_WAKE, A_REM, A_NREM], A_SEMS, STATES[:3]))
] + [legend_ab(), blank(), blank()])
grid.append([blank()] + [
    bar_panel(m, s, AB_SERIES, AB_SERIES, AB_COLORS, AB_RNG, AB_PI, 6, 79)
    for m, s in zip([A_WAKE_BAR, A_REM_BAR, A_NREM_BAR], [A_WAKE_BAR_SEM, A_REM_BAR_SEM, A_NREM_BAR_SEM])
] + [blank(), blank(), blank()])
grid.append([blank(1, 22)] + [blank() for _ in range(6)])
# Row B
grid.append([cellB] + [
    line_panel(m, s, AB_SERIES, AB_SERIES, AB_COLORS, t, 38, -41.5, 6, 78, hz=(i == 2))
    for i, (m, s, t) in enumerate(zip([B_WAKE, B_REM, B_NREM], B_SEMS, STATES[:3]))
] + [blank(), blank(), blank()])
grid.append([blank()] + [
    bar_panel(m, s, AB_SERIES, AB_SERIES, AB_COLORS, AB_RNG, AB_PI, 6, 79)
    for m, s in zip([B_WAKE_BAR, B_REM_BAR, B_NREM_BAR], [B_WAKE_BAR_SEM, B_REM_BAR_SEM, B_NREM_BAR_SEM])
] + [blank(), blank(), blank()])
grid.append([blank(1, 15)] + [blank() for _ in range(6)])
# Row C
C_LINES = [C_WAKE, C_REM, C_NREM, C_DT, C_CAT]
C_BARS = [C_WAKE_BAR, C_REM_BAR, C_NREM_BAR, C_DT_BAR, C_CAT_BAR]
C_BARS_SEM = [C_WAKE_BAR_SEM, C_REM_BAR_SEM, C_NREM_BAR_SEM, C_DT_BAR_SEM, C_CAT_BAR_SEM]
C_TX = [38, 38, 38, 38, 39]
grid.append([cellC] + [
    line_panel(C_LINES[i], C_SEMS[i], W_SERIES if i < 3 else W_SUB, W_SERIES, W_COLORS,
               STATES[i], C_TX[i], -33.5, 7, 78, hz=(i == 4))
    for i in range(5)
] + [legend_w()])
grid.append([blank()] + [
    bar_panel(C_BARS[i], C_BARS_SEM[i], W_SERIES if i < 3 else W_SUB, W_SERIES, W_COLORS, W_RNG, W_PI, 7, 79)
    for i in range(5)
] + [blank()])
grid.append([blank(1, 15)] + [blank() for _ in range(6)])
# Row D
D_LINES = [D_WAKE, D_REM, D_NREM, D_DT, D_CAT]
D_BARS = [D_WAKE_BAR, D_REM_BAR, D_NREM_BAR, D_DT_BAR, D_CAT_BAR]
D_BARS_SEM = [D_WAKE_BAR_SEM, D_REM_BAR_SEM, D_NREM_BAR_SEM, D_DT_BAR_SEM, D_CAT_BAR_SEM]
D_TX = [38, 37.5, 39.5, 32, 26]
grid.append([cellD] + [
    line_panel(D_LINES[i], D_SEMS[i], W_SERIES if i < 3 else W_SUB, W_SERIES, W_COLORS,
               STATES[i], D_TX[i], -23.5, 7, 79, hz=(i == 4))
    for i in range(5)
] + [blank()])
grid.append([blank()] + [
    bar_panel(D_BARS[i], D_BARS_SEM[i], W_SERIES if i < 3 else W_SUB, W_SERIES, W_COLORS, W_RNG, W_PI, 7, 78)
    for i in range(5)
] + [blank()])
grid.append([blank(1, 3)] + [blank() for _ in range(6)])
# Row E
E_MEANS = [EMG_WAKE, EMG_REM, EMG_NREM, EMG_DT, EMG_CAT]
E_SEMS = [EMG_WAKE_SEM, EMG_REM_SEM, EMG_NREM_SEM, EMG_DT_SEM, EMG_CAT_SEM]
E_TX = [39, 39, 39.5, 32, 26]
grid.append([cellE] + [emg_panel(E_MEANS[i], E_SEMS[i], STATES[i], E_TX[i], -28.5) for i in range(5)] + [blank()])

cells = [c for row in grid for c in row]

chart = alt.concat(
    *cells, columns=7, spacing={"row": 50, "column": 59}, bounds="flush", align="each"
).resolve_scale(
    color="independent", xOffset="independent"
).properties(
    padding={"left": 0, "top": 0, "right": 0, "bottom": 0}, background="#ffffff"
).configure(font=FONT).configure_view(stroke=None).configure_axis(
    domainColor=INK, domainWidth=1.6, tickColor=INK, tickWidth=1.6, tickSize=8,
    labelFont=FONT, labelFontSize=16, labelColor=TEXT
)

chart.save("out.html", embed_options={"renderer": "svg", "actions": False})
